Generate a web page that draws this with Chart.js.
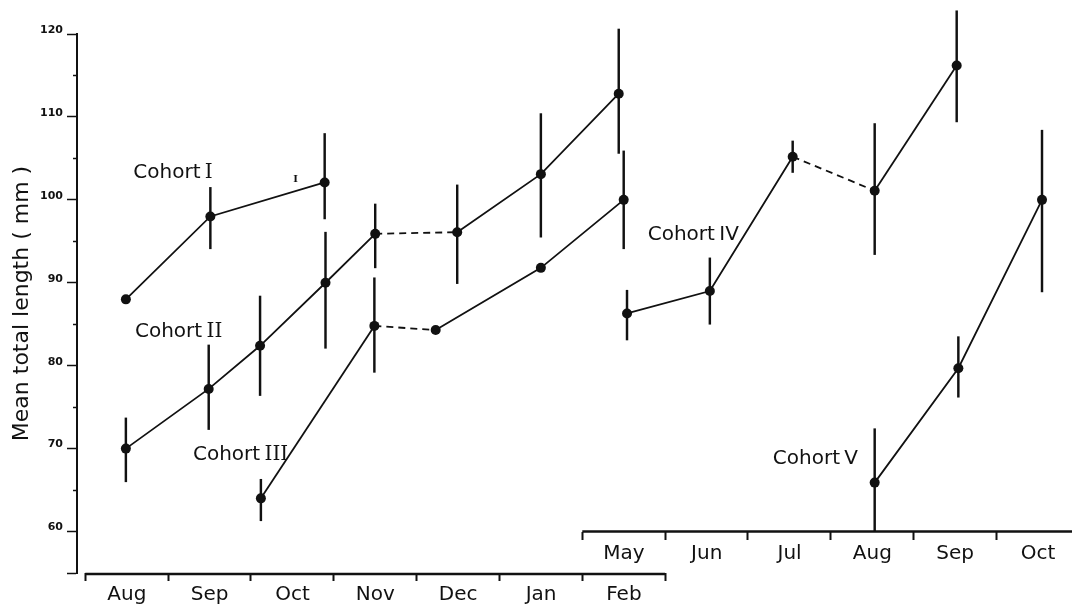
<!DOCTYPE html>
<html lang="en">
<head>
  <meta charset="UTF-8">
  <title>Mean total length by cohort</title>
  <style>
    body {
      margin: 0;
      background: #fff;
    }
    #wrap {
      width: 1076px;
      height: 607px;
    }
  </style>
</head>
<body>
  <div id="wrap"><canvas id="chart" width="1076" height="607"></canvas></div>

  <script src="https://cdn.jsdelivr.net/npm/chart.js"></script>
  <script>
    // month axes: x = 0 is the start of Aug, May on the upper axis shares the Feb slot
    const bottomMonths = ['Aug', 'Sep', 'Oct', 'Nov', 'Dec', 'Jan', 'Feb'];
    const upperMonths = ['May', 'Jun', 'Jul', 'Aug', 'Sep', 'Oct'];
    const yLabelTicks = [55, 60, 70, 80, 90, 100, 110, 120];
    const yMinorTicks = [65, 75, 85, 95, 105, 115];

    // sampling time (months), mean, lower and upper ends of the bar
    const c1Time = [0.49, 1.51, 2.89];
    const c1Mean = [88.0, 98.0, 102.1];
    const c1Low = [null, 94.1, 97.7];
    const c1High = [null, 101.5, 108.0];
    const c1Dashed = [];

    const c2Time = [0.49, 1.49, 2.11, 2.90, 3.50, 4.49, 5.50, 6.44];
    const c2Mean = [70.0, 77.2, 82.4, 90.0, 95.9, 96.1, 103.1, 112.8];
    const c2Low = [66.0, 72.3, 76.4, 82.1, 91.8, 89.9, 95.5, 105.6];
    const c2High = [73.7, 82.5, 88.4, 96.1, 99.5, 101.8, 110.4, 120.6];
    const c2Dashed = [4];

    const c3Time = [2.12, 3.49, 4.23, 5.50, 6.50];
    const c3Mean = [64.0, 84.8, 84.3, 91.8, 100.0];
    const c3Low = [61.3, 79.2, null, null, 94.1];
    const c3High = [66.3, 90.6, null, null, 105.9];
    const c3Dashed = [1];

    const c4Time = [6.54, 7.54, 8.54, 9.53, 10.52];
    const c4Mean = [86.3, 89.0, 105.2, 101.1, 116.2];
    const c4Low = [83.1, 85.0, 103.3, 93.4, 109.4];
    const c4High = [89.1, 93.0, 107.1, 109.2, 122.8];
    const c4Dashed = [2];

    const c5Time = [9.53, 10.54, 11.55];
    const c5Mean = [65.9, 79.7, 100.0];
    const c5Low = [60.0, 76.2, 88.9];
    const c5High = [72.4, 83.5, 108.4];
    const c5Dashed = [];

    const ink = '#111';
    const sans = 'DejaVu Sans';

    function meanSet(time, mean, dashed, axis) {
      return {
        type: 'line',
        xAxisID: axis,
        data: time.map((t, i) => ({ x: t, y: mean[i] })),
        borderColor: ink,
        backgroundColor: ink,
        borderWidth: 1.8,
        pointRadius: 5,
        pointHoverRadius: 5,
        pointBorderWidth: 0,
        tension: 0,
        clip: false,
        segment: {
          borderDash: ctx => dashed.includes(ctx.p0DataIndex) ? [7, 5] : undefined
        }
      };
    }

    function rangeSet(time, low, high, axis) {
      const pts = [];
      time.forEach((t, i) => {
        if (low[i] !== null) pts.push({ x: t, y: [low[i], high[i]] });
      });
      return {
        type: 'bar',
        xAxisID: axis,
        data: pts,
        backgroundColor: ink,
        borderWidth: 0,
        barThickness: 1.8,
        grouped: false,
        clip: false
      };
    }

    // cohort names, placed in data units; numeral drawn in a serif face
    const cohortNames = [
      { x: 0.58, y: 103.3, word: 'Cohort ', num: 'I', serif: true },
      { x: 0.60, y: 84.1, word: 'Cohort ', num: 'II', serif: true },
      { x: 1.30, y: 69.3, word: 'Cohort ', num: 'III', serif: true },
      { x: 6.79, y: 95.8, word: 'Cohort ', num: 'IV', serif: false },
      { x: 8.30, y: 68.8, word: 'Cohort ', num: 'V', serif: false }
    ];

    const extrasPlugin = {
      id: 'extras',
      afterDraw(chart) {
        const { ctx, chartArea } = chart;
        const x = chart.scales.x;
        const y = chart.scales.y;
        ctx.save();
        ctx.strokeStyle = ink;
        ctx.lineWidth = 2.5;
        // lower month axis, Aug..Feb only
        ctx.beginPath();
        ctx.moveTo(x.getPixelForValue(0), chartArea.bottom + 1);
        ctx.lineTo(x.getPixelForValue(7), chartArea.bottom + 1);
        ctx.stroke();
        // upper month axis, May..Oct, sitting at 60 mm
        const y60 = y.getPixelForValue(60);
        ctx.beginPath();
        ctx.moveTo(x.getPixelForValue(6), y60);
        ctx.lineTo(chartArea.right + 1, y60);
        ctx.stroke();

        ctx.fillStyle = ink;
        ctx.textBaseline = 'middle';
        ctx.textAlign = 'left';
        cohortNames.forEach(c => {
          const px = x.getPixelForValue(c.x);
          const py = y.getPixelForValue(c.y);
          ctx.font = '20px "' + sans + '"';
          ctx.fillText(c.word, px, py);
          const w = ctx.measureText(c.word).width;
          ctx.font = c.serif ? '20px "DejaVu Serif"' : '20px "' + sans + '"';
          ctx.fillText(c.num, px + w - 2, py);
        });
        // the small stray "I" mark beside the Oct point of cohort I
        ctx.textAlign = 'center';
        ctx.font = 'bold 10px "DejaVu Serif"';
        ctx.fillText('I', x.getPixelForValue(2.54), y.getPixelForValue(102.5));
        ctx.restore();
      }
    };

    new Chart(document.getElementById('chart'), {
      type: 'line',
      data: {
        datasets: [
          meanSet(c1Time, c1Mean, c1Dashed, 'x'),
          meanSet(c2Time, c2Mean, c2Dashed, 'x'),
          meanSet(c3Time, c3Mean, c3Dashed, 'x'),
          meanSet(c4Time, c4Mean, c4Dashed, 'x2'),
          meanSet(c5Time, c5Mean, c5Dashed, 'x2'),
          rangeSet(c1Time, c1Low, c1High, 'x'),
          rangeSet(c2Time, c2Low, c2High, 'x'),
          rangeSet(c3Time, c3Low, c3High, 'x'),
          rangeSet(c4Time, c4Low, c4High, 'x2'),
          rangeSet(c5Time, c5Low, c5High, 'x2')
        ]
      },
      options: {
        responsive: false,
        animation: false,
        layout: { padding: { top: 34, right: 1, left: 0, bottom: 0 } },
        plugins: {
          legend: { display: false },
          tooltip: { enabled: false }
        },
        scales: {
          x: {
            type: 'linear',
            min: -0.1,
            max: 11.9,
            offset: false,
            border: { display: false },
            grid: { offset: false, drawOnChartArea: false, tickLength: 8, tickWidth: 2, tickColor: ink },
            afterBuildTicks: s => { s.ticks = [0, 1, 2, 3, 4, 5, 6, 7].map(v => ({ value: v })); },
            afterFit: s => { s.height = 34; },
            ticks: {
              autoSkip: false,
              maxRotation: 0,
              padding: 2,
              labelOffset: 41.6,
              color: ink,
              font: { family: sans, size: 20 },
              callback: v => bottomMonths[v] || ''
            }
          },
          x2: {
            type: 'linear',
            min: -0.1,
            max: 11.9,
            offset: false,
            position: { y: 60 },
            border: { display: false },
            grid: { offset: false, drawOnChartArea: false, tickLength: 8, tickWidth: 2, tickColor: ink },
            afterBuildTicks: s => { s.ticks = [6, 7, 8, 9, 10, 11].map(v => ({ value: v })); },
            ticks: {
              autoSkip: false,
              maxRotation: 0,
              padding: 2,
              labelOffset: 41.6,
              color: ink,
              font: { family: sans, size: 20 },
              callback: v => upperMonths[v - 6] || ''
            }
          },
          y: {
            type: 'linear',
            min: 55,
            max: 120,
            border: { display: true, color: ink, width: 2 },
            grid: { drawOnChartArea: false, tickLength: 10, tickWidth: 1.5, tickColor: ink },
            afterBuildTicks: s => { s.ticks = yLabelTicks.map(v => ({ value: v })); },
            afterFit: s => { s.width = 77; },
            ticks: {
              padding: 4,
              labelOffset: -4,
              color: ink,
              font: { family: sans, size: 11, weight: 'bold' },
              callback: v => (v % 10 === 0 ? String(v) : '')
            },
            title: {
              display: true,
              text: 'Mean total length ( mm )',
              color: ink,
              font: { family: sans, size: 22 },
              padding: { top: 9, bottom: 0 }
            }
          },
          y2: {
            type: 'linear',
            min: 55,
            max: 120,
            position: { x: -0.1 },
            border: { display: false },
            grid: { drawOnChartArea: false, tickLength: 4, tickWidth: 1.5, tickColor: ink },
            afterBuildTicks: s => { s.ticks = yMinorTicks.map(v => ({ value: v })); },
            ticks: { display: false }
          }
        }
      },
      plugins: [extrasPlugin]
    });
  </script>
</body>
</html>
